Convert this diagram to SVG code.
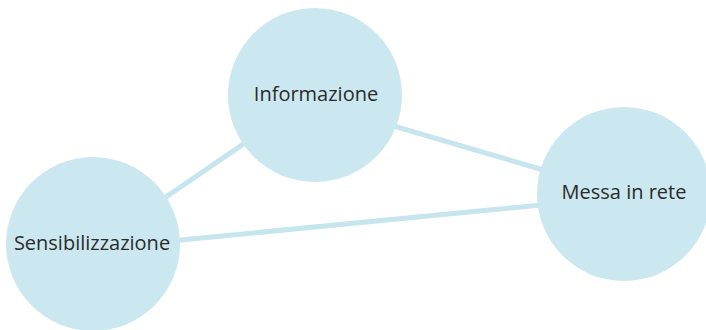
<svg xmlns="http://www.w3.org/2000/svg" width="706" height="330" viewBox="0 0 706 330">
<style>
.edge{stroke:#c6e5ee;stroke-width:5;fill:none}
.node{fill:#cbe8f0}
.lbl{font-family:"Open Sans","Noto Sans",sans-serif;font-size:20px;fill:#2b2b2b;text-anchor:middle}
</style>
<rect width="706" height="330" fill="#ffffff"/>
<g id="connectors">
<line class="edge" x1="315" y1="95" x2="93" y2="247"/>
<line class="edge" x1="315" y1="103" x2="624" y2="193.5"/>
<line class="edge" x1="93" y1="248.5" x2="624" y2="197"/>
</g>
<g id="informazione">
<circle class="node" cx="315" cy="95" r="87"/>
<text class="lbl" x="316" y="101">Informazione</text>
</g>
<g id="messa-in-rete">
<circle class="node" cx="624" cy="194" r="87"/>
<text class="lbl" x="624" y="199">Messa in rete</text>
</g>
<g id="sensibilizzazione">
<circle class="node" cx="93" cy="244" r="87"/>
<text class="lbl" x="92" y="250">Sensibilizzazione</text>
</g>
</svg>
